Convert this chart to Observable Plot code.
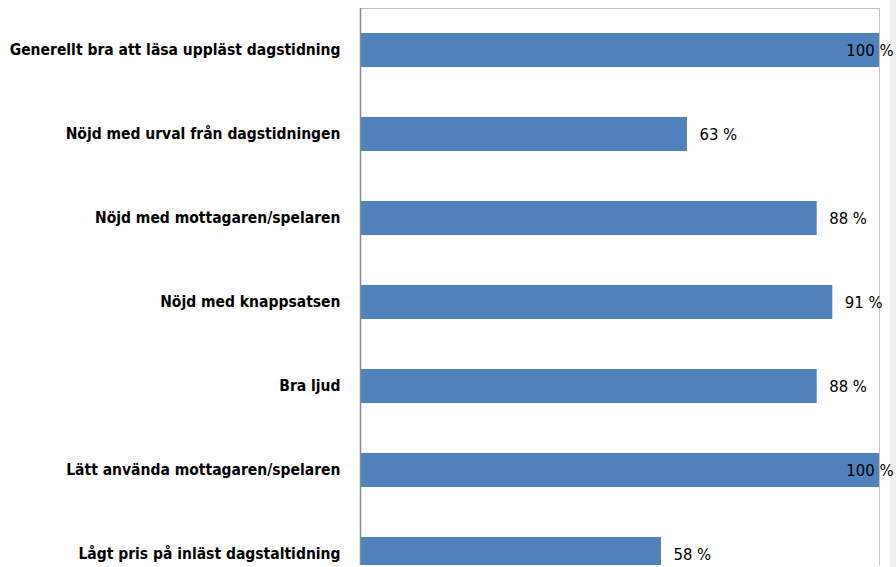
<!DOCTYPE html>
<html>
<head>
<meta charset="utf-8">
<script src="https://cdn.jsdelivr.net/npm/d3@7"></script>
<script src="https://cdn.jsdelivr.net/npm/@observablehq/plot@0.6"></script>
<style>
  html, body { margin: 0; padding: 0; background: #ffffff; }
  #wrap { position: relative; width: 896px; height: 567px; overflow: hidden; }
  #strip { position: absolute; left: 890px; top: 0; width: 6px; height: 567px; background: #f0f0f0; z-index: 0; }
  #chart { position: absolute; left: 0; top: 0; z-index: 1; }
  svg text { font-family: "DejaVu Sans Condensed", "Liberation Sans Narrow", "Open Sans", sans-serif; }
</style>
</head>
<body>
<div id="wrap"><div id="strip"></div><div id="chart"></div></div>
<script>
const categories = [
  "Generellt bra att läsa uppläst dagstidning",
  "Nöjd med urval från dagstidningen",
  "Nöjd med mottagaren/spelaren",
  "Nöjd med knappsatsen",
  "Bra ljud",
  "Lätt använda mottagaren/spelaren",
  "Lågt pris på inläst dagstaltidning"
];
const values = [100, 63, 88, 91, 88, 100, 58];
const valueLabels = ["100 %", "63 %", "88 %", "91 %", "88 %", "100 %", "58 %"];

const data = categories.map((c, i) => ({category: c, value: values[i], label: valueLabels[i]}));

const chart = Plot.plot({
  width: 896,
  height: 567,
  marginLeft: 360,
  marginRight: 17,
  marginTop: 8,
  marginBottom: 2,
  style: {background: "transparent", overflow: "visible"},
  x: {domain: [0, 100], axis: null},
  y: {domain: categories, range: [8, 596], paddingInner: 0.6, paddingOuter: 0.3, label: null, axis: null},
  marks: [
    Plot.frame({anchor: "top", stroke: "#c4c4c4"}),
    Plot.ruleX([100], {stroke: "#c4c4c4"}),
    Plot.barX(data, {y: "category", x: "value", fill: "#4F81BD", clip: true}),
    Plot.ruleX([0], {stroke: "#8c8c8c", strokeWidth: 1.5}),
    Plot.axisY({tickSize: 0, tickPadding: 20, fontSize: 15.5, fontWeight: "bold", fill: "#000", label: null}),
    Plot.text(data.filter(d => d.value < 100), {y: "category", x: "value", text: "label", textAnchor: "start", dx: 12, fontSize: 16.5, fill: "#000"}),
    Plot.text(data.filter(d => d.value >= 100), {y: "category", x: "value", text: "label", textAnchor: "end", dx: 14, fontSize: 16.5, fill: "#000"})
  ]
});
document.getElementById("chart").appendChild(chart);
</script>
</body>
</html>
